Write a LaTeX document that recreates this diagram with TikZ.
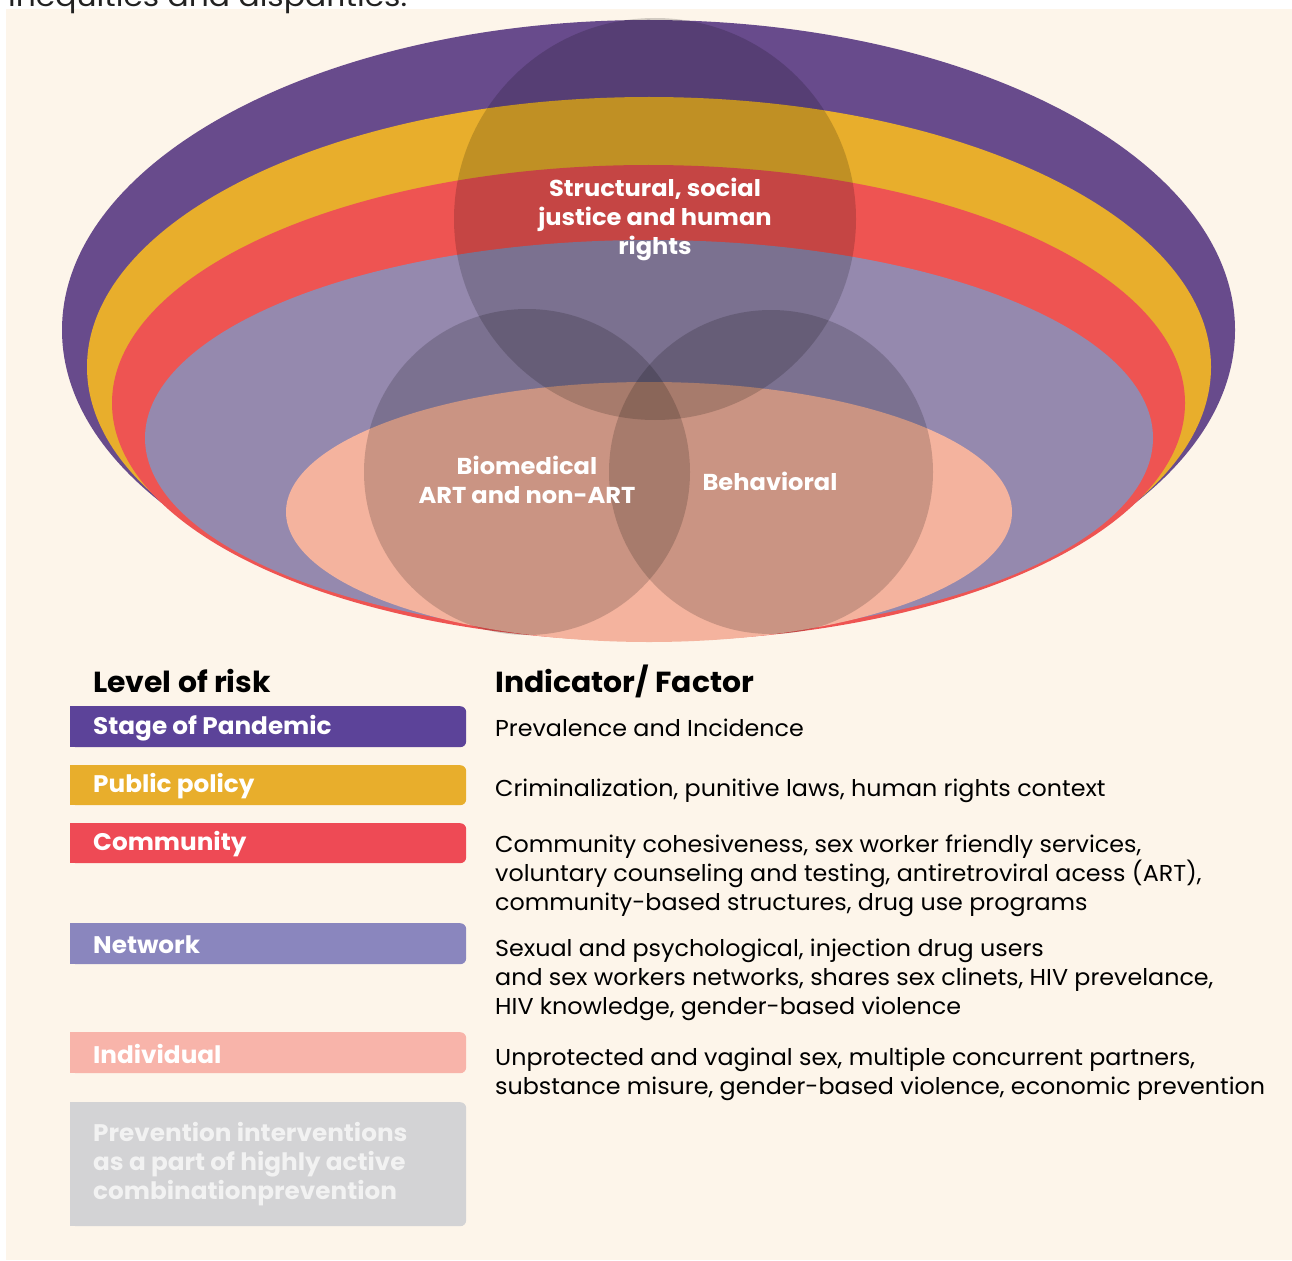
\documentclass[tikz,border=0pt]{standalone}
\usepackage{fontspec}
\setmainfont{Poppins}
\definecolor{bg}{HTML}{FDF5EA}
\definecolor{cPurple}{HTML}{684B8C}
\definecolor{cYellow}{HTML}{E8AE2C}
\definecolor{cRed}{HTML}{EE5452}
\definecolor{cLav}{HTML}{9589AE}
\definecolor{cPink}{HTML}{F4B39E}
\definecolor{bPurple}{HTML}{5C4399}
\definecolor{bYellow}{HTML}{E8AE2C}
\definecolor{bRed}{HTML}{EE4A55}
\definecolor{bLav}{HTML}{8A86BE}
\definecolor{bPink}{HTML}{F8B4AA}
\definecolor{bGray}{HTML}{D3D3D5}
\definecolor{ptext}{HTML}{F2F2F2}
\definecolor{topgray}{HTML}{222222}
\newcommand{\circfont}{\fontsize{23}{29}\selectfont\bfseries\addfontfeatures{FakeStretch=1.05}}
\newcommand{\boxfont}{\fontsize{24}{29}\selectfont\bfseries\addfontfeatures{FakeStretch=1.03}}
\newcommand{\headfont}{\fontsize{29}{32}\selectfont\bfseries\addfontfeatures{FakeStretch=1.03}}
\newcommand{\bodyfont}{\fontsize{23}{29}\selectfont\addfontfeatures{FakeStretch=1.035}}
\newcommand{\lines}[1]{\parbox[t]{900pt}{\baselineskip=29pt #1}}
\begin{document}
\begin{tikzpicture}[x=1pt,y=-1pt,
  shadecirc/.style={fill=black, fill opacity=0.17},
  lbox/.style={rectangle, rounded corners=6pt, minimum width=396pt, anchor=north west, inner sep=0pt},
  ltext/.style={anchor=west, inner sep=0pt, text=white, font=\boxfont},
  ctext/.style={inner sep=0pt, text=white, font=\circfont, align=center},
  ftext/.style={anchor=base west, inner sep=0pt, font=\bodyfont, text=black},
  htext/.style={anchor=base west, inner sep=0pt, font=\headfont, text=black}]
\useasboundingbox (0,0) rectangle (1292,1260);
\fill[white] (0,0) rectangle (1292,1260);
\fill[bg] (6,9) rectangle (1292,1260);
\node[anchor=base west, inner sep=0pt, font=\fontsize{28}{30}\selectfont\addfontfeatures{FakeStretch=1.12}, text=topgray] (toptext) at (8,7) {inequities and disparities.};
% nested ellipses
\fill[cPurple] (648.5,330) ellipse [x radius=586.5pt, y radius=310pt];
\fill[cYellow] (649,367) ellipse [x radius=562pt, y radius=270pt];
\fill[cRed] (648.5,403) ellipse [x radius=536.5pt, y radius=238pt];
\fill[cLav] (649,438) ellipse [x radius=504pt, y radius=198pt];
\fill[cPink] (649,512) ellipse [x radius=363pt, y radius=130pt];
% overlapping circles
\fill[shadecirc] (655,219) circle [radius=201pt];
\fill[shadecirc] (527,472) circle [radius=163pt];
\fill[shadecirc] (771,472) circle [radius=162pt];
\node[ctext] (struct) at (655,219) {Structural, social\\justice and human\\rights};
\node[ctext] (bio) at (527,480) {Biomedical\\ART and non-ART};
\node[ctext] (beh) at (770,481) {Behavioral};
% headings
\node[htext] (hlevel) at (93,692) {Level of risk};
\node[htext] (hind) at (495,692) {Indicator/ Factor};
% level boxes
\node[lbox, fill=bPurple, minimum height=41pt] (b1) at (70,706) {};
\fill[bPurple] (b1.north west) rectangle (b1.south);
\node[ltext] (t1) at ([xshift=23pt,yshift=-1pt]b1.west) {Stage of Pandemic};
\node[lbox, fill=bYellow, minimum height=40pt] (b2) at (70,765) {};
\fill[bYellow] (b2.north west) rectangle (b2.south);
\node[ltext] (t2) at ([xshift=23pt,yshift=-1pt]b2.west) {Public policy};
\node[lbox, fill=bRed, minimum height=40pt] (b3) at (70,823) {};
\fill[bRed] (b3.north west) rectangle (b3.south);
\node[ltext] (t3) at ([xshift=23pt,yshift=-1pt]b3.west) {Community};
\node[lbox, fill=bLav, minimum height=41pt] (b4) at (70,923) {};
\fill[bLav] (b4.north west) rectangle (b4.south);
\node[ltext] (t4) at ([xshift=23pt,yshift=-1pt]b4.west) {Network};
\node[lbox, fill=bPink, minimum height=41pt] (b5) at (70,1032) {};
\fill[bPink] (b5.north west) rectangle (b5.south);
\node[ltext] (t5) at ([xshift=23pt,yshift=-1pt]b5.west) {Individual};
\node[lbox, fill=bGray, minimum height=124pt] (b6) at (70,1102) {};
\fill[bGray] (b6.north west) rectangle (b6.south);
\node[anchor=base west, inner sep=0pt, text=ptext, font=\boxfont] (t6) at (93,1141) {\lines{Prevention interventions\\as a part of highly active\\combinationprevention}};
% factors
\node[ftext] (f1) at (495,736) {\lines{Prevalence and Incidence}};
\node[ftext] (f2) at (495,796) {\lines{Criminalization, punitive laws, human rights context}};
\node[ftext] (f3) at (495,852) {\lines{Community cohesiveness, sex worker friendly services,\\voluntary counseling and testing, antiretroviral acess (ART),\\community-based structures, drug use programs}};
\node[ftext] (f4) at (495,956) {\lines{Sexual and psychological, injection drug users\\and sex workers networks, shares sex clinets, HIV prevelance,\\HIV knowledge, gender-based violence}};
\node[ftext] (f5) at (495,1065) {\lines{Unprotected and vaginal sex, multiple concurrent partners,\\substance misure, gender-based violence, economic prevention}};
\end{tikzpicture}
\end{document}
